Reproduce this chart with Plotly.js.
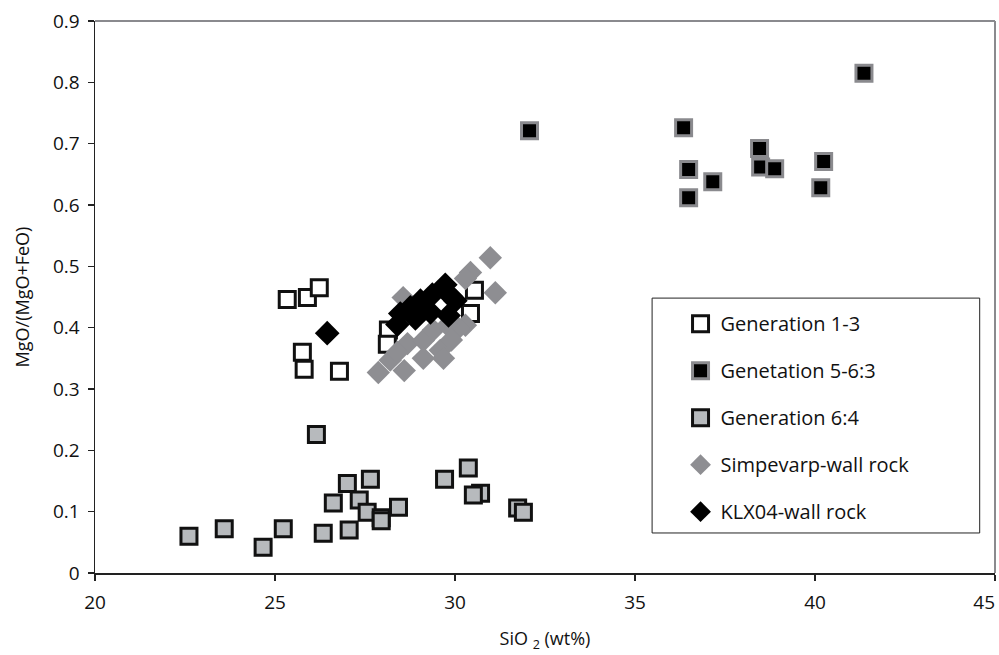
<!DOCTYPE html>
<html>
<head>
<meta charset="utf-8">
<script src="https://cdn.plot.ly/plotly-3.0.1.min.js"></script>
<style>html,body{margin:0;padding:0;background:#fff;}#chart{width:999px;height:655px;}</style>
</head>
<body>
<div id="chart"></div>
<script>
// Generation 1-3 (open squares)
const gen13X = [25.34, 25.90, 26.23, 25.76, 25.81, 26.79, 28.15, 28.12, 30.54, 30.43];
const gen13Y = [0.446, 0.449, 0.465, 0.360, 0.332, 0.329, 0.396, 0.373, 0.461, 0.423];

// Genetation 5-6:3 (black squares, grey border)
const gen563X = [32.07, 36.35, 36.49, 36.49, 37.16, 38.46, 38.49, 38.88, 40.24, 40.16, 41.36];
const gen563Y = [0.721, 0.726, 0.658, 0.612, 0.638, 0.692, 0.662, 0.659, 0.671, 0.628, 0.815];

// Generation 6:4 (grey squares)
const gen64X = [22.61, 23.59, 24.67, 25.23, 26.15, 26.34, 26.62, 27.01, 27.06, 27.34, 27.65, 27.56, 27.95, 27.95, 28.43, 29.71, 30.37, 30.71, 30.51, 31.74, 31.90];
const gen64Y = [0.060, 0.072, 0.042, 0.072, 0.226, 0.065, 0.114, 0.146, 0.070, 0.119, 0.153, 0.099, 0.090, 0.085, 0.107, 0.153, 0.171, 0.130, 0.127, 0.106, 0.099];

// Simpevarp-wall rock (grey diamonds)
const simpX = [30.98, 30.43, 30.29, 31.12, 28.56, 30.29, 30.09, 27.87, 28.59, 28.20, 28.68, 29.12, 29.12, 29.59, 29.68, 29.40, 29.79, 28.40, 29.90];
const simpY = [0.514, 0.490, 0.480, 0.457, 0.449, 0.404, 0.399, 0.327, 0.330, 0.347, 0.374, 0.379, 0.350, 0.363, 0.350, 0.396, 0.404, 0.360, 0.380];

// KLX04-wall rock (black diamonds)
const klxX = [26.45, 28.40, 28.48, 28.76, 29.04, 29.37, 29.73, 29.87, 30.01, 29.82, 29.32, 28.90];
const klxY = [0.391, 0.405, 0.423, 0.433, 0.444, 0.454, 0.470, 0.452, 0.444, 0.420, 0.425, 0.415];

const names = ["Generation 1-3", "Genetation 5-6:3", "Generation 6:4", "Simpevarp-wall rock", "KLX04-wall rock"];

const xTicks = [20, 25, 30, 35, 40, 45];
const xTickText = ["20", "25", "30", "35", "40", "45\u2007\u2007"];
const yTicks = [0, 0.1, 0.2, 0.3, 0.4, 0.5, 0.6, 0.7, 0.8, 0.9];
const yTickText = ["0", "0.1", "0.2", "0.3", "0.4", "0.5", "0.6", "0.7", "0.8", "0.9"];

const sq = 16;
const traces = [
  {x: gen13X, y: gen13Y, name: names[0], legendgroup: "a", type: "scatter", mode: "markers",
   marker: {symbol: "square", size: sq, color: "#ffffff", line: {color: "#111111", width: 3}}},
  {x: gen563X, y: gen563Y, name: names[1], legendgroup: "b", type: "scatter", mode: "markers",
   marker: {symbol: "square", size: sq, color: "#000000", line: {color: "#8a8a8e", width: 3}}},
  {x: gen64X, y: gen64Y, name: names[2], legendgroup: "c", type: "scatter", mode: "markers",
   marker: {symbol: "square", size: sq, color: "#b7babd", line: {color: "#111111", width: 3}}},
  {x: simpX, y: simpY, name: names[3], legendgroup: "d", type: "scatter", mode: "markers",
   marker: {symbol: "diamond", size: 18, color: "#8e8e92", line: {width: 0}}},
  {x: klxX, y: klxY, name: names[4], legendgroup: "e", type: "scatter", mode: "markers",
   marker: {symbol: "diamond", size: 19, color: "#000000", line: {width: 0}}}
];

const font = "'Open Sans', 'Noto Sans', sans-serif";
const layout = {
  width: 999, height: 655,
  margin: {l: 95, r: 4, t: 21, b: 82},
  paper_bgcolor: "#ffffff", plot_bgcolor: "#ffffff",
  font: {family: font, color: "#111111", size: 19},
  showlegend: true,
  legend: {x: 0.6506, y: 0.487, xanchor: "left", yanchor: "top", bgcolor: "rgba(0,0,0,0)",
           borderwidth: 0, font: {family: font, size: 20, color: "#111111"},
           tracegroupgap: 18, itemsizing: "trace"},
  xaxis: {range: [20, 45], tickvals: xTicks, ticktext: xTickText,
          showgrid: false, zeroline: false, showline: true, linecolor: "#222222", linewidth: 1.5,
          ticks: "outside", ticklen: 6, tickwidth: 1.2, tickcolor: "#222222", ticklabeloverflow: "allow",
          ticklabelstandoff: 6,
          tickfont: {size: 19}, title: {text: "SiO <sub>2</sub> (wt%)", font: {size: 18}, standoff: 18}},
  yaxis: {range: [0, 0.9], tickvals: yTicks, ticktext: yTickText,
          showgrid: false, zeroline: false, showline: true, linecolor: "#222222", linewidth: 1.5,
          ticks: "outside", ticklen: 6, tickwidth: 1.2, tickcolor: "#222222",
          ticklabelstandoff: 4,
          tickfont: {size: 19}, title: {text: "MgO/(MgO+FeO)", font: {size: 18}, standoff: 18}},
  shapes: [
    {type: "line", xref: "paper", yref: "paper", x0: 0, x1: 1, y0: 1, y1: 1, line: {color: "#8a8a8e", width: 2}},
    {type: "line", xref: "paper", yref: "paper", x0: 1, x1: 1, y0: 0, y1: 1, line: {color: "#8a8a8e", width: 2}},
    {type: "rect", xref: "paper", yref: "paper", x0: 0.619, x1: 0.983, y0: 0.0725, y1: 0.498,
     line: {color: "#222222", width: 1}, fillcolor: "rgba(255,255,255,0)", layer: "above"}
  ]
};

Plotly.newPlot("chart", traces, layout, {displayModeBar: false, staticPlot: true});
</script>
</body>
</html>
